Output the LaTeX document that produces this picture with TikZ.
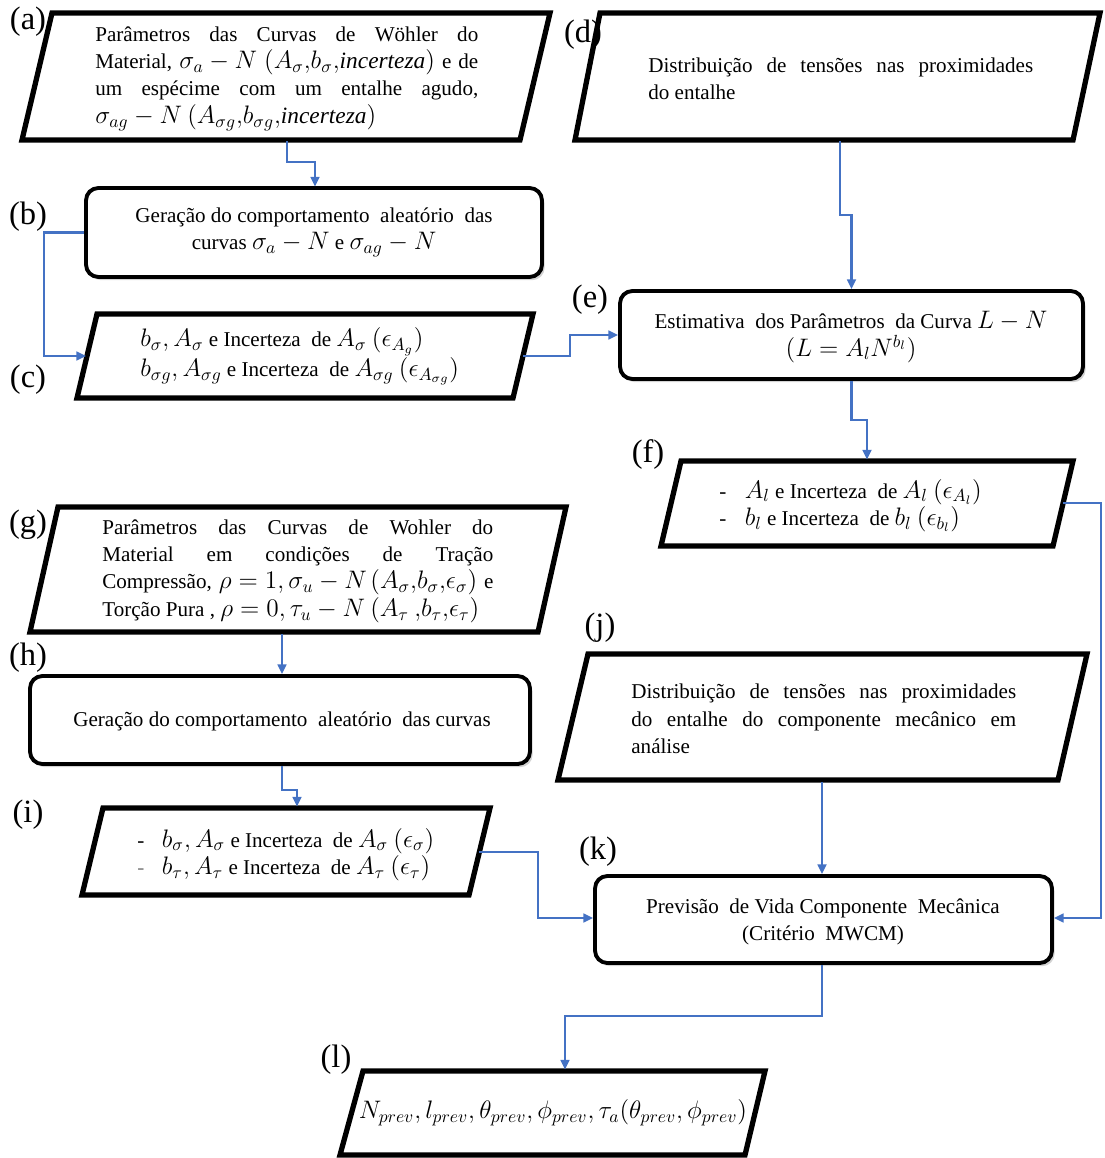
\documentclass[tikz,border=0pt]{standalone}
\usepackage{fontspec}
\setmainfont{Liberation Serif}
\DeclareMathSizes{12}{13.3}{9.7}{7.4}
\usetikzlibrary{arrows.meta,shadows}
\begin{document}
\begin{tikzpicture}[x=0.02cm,y=-0.02cm,
  txt/.style={inner sep=0pt,font=\fontsize{12}{15.6}\selectfont,align=left},
  ctxt/.style={inner sep=0pt,font=\fontsize{12}{15.6}\selectfont,align=center},
  lab/.style={inner sep=0pt,font=\fontsize{18.5}{20}\selectfont},
  para/.style={line width=3pt,line join=miter},
  rbox/.style={draw,line width=2.2pt,rounded corners=7pt,fill=white,
    drop shadow={shadow xshift=1.5pt,shadow yshift=-1.8pt,opacity=0.35},
    inner sep=0pt},
  arr/.style={draw={rgb,255:red,68;green,114;blue,196},line width=1.25pt,
    -{Triangle[length=5.5pt,width=5pt]}}
]
\useasboundingbox (0,0) rectangle (1104,1158);

% ---- parallelograms ----
\draw[para] (52,13) -- (550,13) -- (520,140) -- (22,140) -- cycle;   % a
\draw[para] (600,13) -- (1100,13) -- (1073,140) -- (575,140) -- cycle; % d
\draw[para] (97,314) -- (533,314) -- (513,398) -- (77,398) -- cycle;  % c
\draw[para] (681,461) -- (1073,461) -- (1053,546) -- (661,546) -- cycle; % f
\draw[para] (58,507) -- (566,507) -- (538,632) -- (30,632) -- cycle;  % g
\draw[para] (103,808) -- (490,808) -- (469,895) -- (82,895) -- cycle; % i
\draw[para] (588,654) -- (1087,654) -- (1058,780) -- (558,780) -- cycle; % j
\draw[para] (363,1071) -- (765,1071) -- (745,1155) -- (340,1155) -- cycle; % l

% ---- rounded boxes ----
\node[rbox,minimum width=9.12cm,minimum height=1.78cm] (b) at (314,232.5) {};
\node[rbox,minimum width=9.26cm,minimum height=1.76cm] (e) at (851.5,335) {};
\node[rbox,minimum width=10cm,minimum height=1.76cm] (h) at (280,720) {};
\node[rbox,minimum width=9.14cm,minimum height=1.74cm] (k) at (823.5,919.5) {};

% ---- texts ----
\node[txt,anchor=west] (ta) at (95,78.5) {%
\makebox[7.66cm][s]{Parâmetros das Curvas de Wöhler do}\\
\makebox[7.66cm][s]{Material, \mbox{$\sigma_a-N$} \mbox{$(A_\sigma{,}b_\sigma{,}\mathit{incerteza})$} e de}\\
\makebox[7.66cm][s]{um espécime com um entalhe agudo,}\\
$\sigma_{ag}-N$ $(A_{\sigma g}{,}b_{\sigma g}{,}\mathit{incerteza})$};

\node[txt,anchor=west] (td) at (648,79) {%
\makebox[7.7cm][s]{Distribuição de tensões nas proximidades}\\
do entalhe};

\node[ctxt] (tb) at (b.center) {Geração do comportamento\ \ aleatório\ \ das\\
curvas $\sigma_a-N$ e $\sigma_{ag}-N$};

\node[txt,anchor=west] (tc) at (140,356.5) {%
$b_\sigma, A_\sigma$ e Incerteza\ \ de $A_\sigma$ $(\epsilon_{A_g})$\\
$b_{\sigma g}, A_{\sigma g}$ e Incerteza\ \ de $A_{\sigma g}$ $(\epsilon_{A_{\sigma g}})$};

\node[ctxt] (te) at (851,337) {Estimativa\ \ dos Parâmetros\ \ da Curva $L-N$\\
$(L=A_l N^{b_l})$};

\node[txt,anchor=west] (tf) at (719,505.5) {%
\makebox[14.5pt][l]{-}$A_l$ e Incerteza\ \ de $A_l$ $(\epsilon_{A_l})$\\
\makebox[14.5pt][l]{-}$b_l$ e Incerteza\ \ de $b_l$ $(\epsilon_{b_l})$};

\node[txt,anchor=west] (tg) at (102,571) {%
\makebox[7.82cm][s]{Parâmetros das Curvas de Wohler do}\\
\makebox[7.82cm][s]{Material em condições de Tração}\\
\makebox[7.82cm][s]{Compressão,\ \ \mbox{$\rho=1,\sigma_u-N$} \mbox{$(A_\sigma{,}b_\sigma{,}\epsilon_\sigma)$}\ \ e}\\
Torção Pura , $\rho=0,\tau_u-N$ $(A_\tau\ {,}b_\tau{,}\epsilon_\tau)$};

\node[ctxt] (th) at (282,721) {Geração do comportamento\ \ aleatório\ \ das curvas};

\node[txt,anchor=west] (ti) at (137,854.5) {%
\makebox[14pt][l]{-}$b_\sigma, A_\sigma$ e Incerteza\ \ de $A_\sigma$ $(\epsilon_\sigma)$\\
\makebox[14pt][l]{\color{gray}-}$b_\tau, A_\tau$ e Incerteza\ \ de $A_\tau$ $(\epsilon_\tau)$};

\node[txt,anchor=west] (tj) at (631,719) {%
\makebox[7.7cm][s]{Distribuição de tensões nas proximidades}\\
\makebox[7.7cm][s]{do entalhe do componente mecânico em}\\
análise};

\node[ctxt] (tk) at (823,922) {Previsão\ \ de Vida Componente\ \ Mecânica\\
(Critério\ \ MWCM)};

\node[ctxt] (tl) at (553,1113) {$N_{prev},l_{prev},\theta_{prev},\phi_{prev},\tau_a(\theta_{prev},\phi_{prev})$};

% ---- labels ----
\node[lab] (la) at (28,22) {(a)};
\node[lab] (lb) at (28,217) {(b)};
\node[lab] (lc) at (28,380) {(c)};
\node[lab] (ld) at (583,35) {(d)};
\node[lab] (le) at (590,300) {(e)};
\node[lab] (lf) at (648,455) {(f)};
\node[lab] (lg) at (28,525) {(g)};
\node[lab] (lh) at (28,658) {(h)};
\node[lab] (li) at (28,815) {(i)};
\node[lab] (lj) at (600,628) {(j)};
\node[lab] (lk) at (598,852) {(k)};
\node[lab] (ll) at (336,1060) {(l)};

% ---- edge coordinates ----
\coordinate (a-s) at (287,141.5);
\coordinate (c-w) at (86,356);
\coordinate (c-e) at (523,356);
\coordinate (d-s) at (840,141.5);
\coordinate (f-n) at (867,459.5);
\coordinate (f-e) at (1063,503);
\coordinate (g-s) at (282,633.5);
\coordinate (i-n) at (297,806.5);
\coordinate (i-e) at (479,852);
\coordinate (j-s) at (822,781.5);
\coordinate (l-n) at (565,1069.5);

% ---- connectors ----
\draw[arr] (a-s) -- (287,162) -- (315,162) -- (315,186.5);
\draw[arr] (b.west) -- (44,232.5) -- (44,356) -- (c-w);
\draw[arr] (c-e) -- (570,356) -- (570,335) -- (e.west);
\draw[arr] (d-s) -- (840,215) -- (851.5,215) -- (e.north);
\draw[arr] (e.south) -- (851.5,420) -- (867,420) -- (f-n);
\draw[arr] (f-e) -- (1101,503) -- (1101,918) -- (k.east |- 0,918);
\draw[arr] (g-s) -- (h.north -| g-s);
\draw[arr] (h.south -| g-s) -- (282,790) -- (297,790) -- (i-n);
\draw[arr] (i-e) -- (538,852) -- (538,918) -- (k.west |- 0,918);
\draw[arr] (j-s) -- (k.north -| j-s);
\draw[arr] (k.south -| j-s) -- (822,1016) -- (565,1016) -- (l-n);
\end{tikzpicture}
\end{document}
